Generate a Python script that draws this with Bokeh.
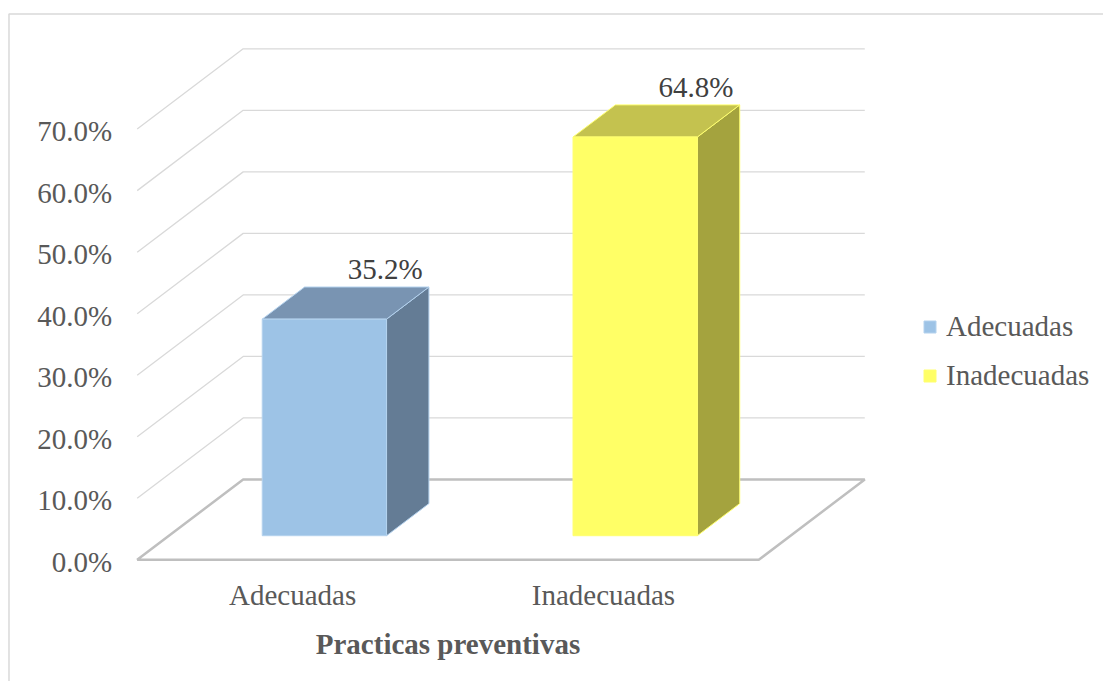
from bokeh.plotting import figure
from bokeh.models import Range1d, Legend, LegendItem
from bokeh.core.properties import value
from bokeh.embed import file_html
from bokeh.resources import INLINE

# Chart data
categories = ["Adecuadas", "Inadecuadas"]
percentages = [35.2, 64.8]
value_labels = ["35.2%", "64.8%"]
tick_values = [0, 10, 20, 30, 40, 50, 60, 70]
tick_labels = ["0.0%", "10.0%", "20.0%", "30.0%", "40.0%", "50.0%", "60.0%", "70.0%"]
axis_title = "Practicas preventivas"

# Styling
FONT = "Liberation Serif"
FONT_SIZE = "29px"
front_colors = ["#9dc3e6", "#ffff66"]
top_colors = ["#7994b2", "#c4c24f"]
side_colors = ["#647c95", "#a4a33e"]
edge_colors = ["#b4d2ee", "#ffff70"]

# Oblique projection: one unit of depth moves a point right (in category
# units) and up (in percent units).
DEPTH_DX = 0.341
DEPTH_DY = 13.05
BAR_D0, BAR_D1 = 0.3, 0.7      # bar depth span
BAR_X0, BAR_X1 = 0.3, 0.7      # bar span within its category slot
n = len(categories)

p = figure(width=1103, height=681, output_backend="svg", toolbar_location=None,
           x_range=Range1d(-0.4398, 3.1091), y_range=Range1d(-19.78, 90.90),
           min_border=0, min_border_left=0, min_border_right=0,
           min_border_top=0, min_border_bottom=0)
p.xaxis.visible = False
p.yaxis.visible = False
p.grid.visible = False
p.outline_line_color = None
p.background_fill_color = "white"
p.border_fill_color = "white"

# Chart-area border (left and top edges)
p.line([-0.4125, -0.4125, 3.2], [-25, 88.71, 88.71], line_color="#d9d9d9", line_width=1.5)

# Gridlines: front edge rises diagonally to the back wall, then runs across
for v in tick_values[1:]:
    p.line([0, DEPTH_DX, n + DEPTH_DX], [v, v + DEPTH_DY, v + DEPTH_DY],
           line_color="#d9d9d9", line_width=1.3)

# Floor
p.patch([0, DEPTH_DX, n + DEPTH_DX, n, 0], [0, DEPTH_DY, DEPTH_DY, 0, 0],
        fill_color="white", fill_alpha=0, line_color="#bfbfbf", line_width=2.5)

# 3D bars
legend_items = []
for i, (cat, v) in enumerate(zip(categories, percentages)):
    xl, xr = i + BAR_X0, i + BAR_X1
    sx0, sy0 = BAR_D0 * DEPTH_DX, BAR_D0 * DEPTH_DY
    sx1, sy1 = BAR_D1 * DEPTH_DX, BAR_D1 * DEPTH_DY
    # side face
    p.patch([xr + sx0, xr + sx1, xr + sx1, xr + sx0],
            [sy0, sy1, v + sy1, v + sy0],
            fill_color=side_colors[i], line_color=edge_colors[i], line_width=1)
    # top face
    p.patch([xl + sx0, xr + sx0, xr + sx1, xl + sx1],
            [v + sy0, v + sy0, v + sy1, v + sy1],
            fill_color=top_colors[i], line_color=edge_colors[i], line_width=1)
    # front face
    r = p.quad(left=[xl + sx0], right=[xr + sx0], bottom=[sy0], top=[v + sy0],
               fill_color=front_colors[i], line_color=edge_colors[i], line_width=1)
    legend_items.append(LegendItem(label=cat, renderers=[r]))

# Value labels above each bar
p.text(x=[i + 0.798 for i in range(n)], y=[v + 12.1 for v in percentages],
       text=value_labels, text_font=value(FONT), text_font_size=FONT_SIZE,
       text_color="#404040", text_align="center", text_baseline="middle")

# Vertical axis labels
p.text(x=[-0.0804] * len(tick_values), y=[t - 0.35 for t in tick_values],
       text=tick_labels, text_font=value(FONT), text_font_size=FONT_SIZE,
       text_color="#595959", text_align="right", text_baseline="middle")

# Category labels along the front edge of the floor
p.text(x=[i + 0.5 for i in range(n)], y=[-5.8] * n, text=categories,
       text_font=value(FONT), text_font_size=FONT_SIZE, text_color="#595959",
       text_align="center", text_baseline="middle")

# Axis title
p.text(x=[n / 2], y=[-13.7], text=[axis_title], text_font=value(FONT),
       text_font_size=FONT_SIZE, text_font_style="bold", text_color="#595959",
       text_align="center", text_baseline="middle")

legend = Legend(items=legend_items, location=(922, 289), orientation="vertical",
                label_text_font=FONT, label_text_font_size=FONT_SIZE,
                label_text_color="#595959", glyph_width=15, glyph_height=15,
                label_standoff=9, spacing=16, padding=0, margin=0,
                border_line_alpha=0, background_fill_alpha=0)
p.add_layout(legend)

open("out.html", "w").write(file_html(p, INLINE))
